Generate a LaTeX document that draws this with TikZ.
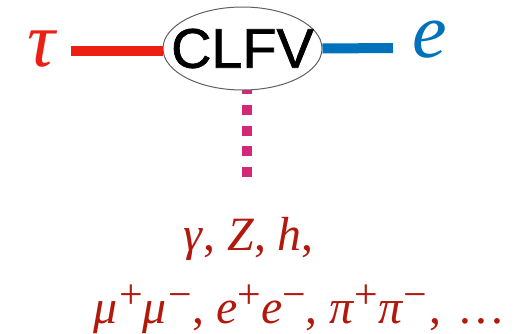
\documentclass[tikz,border=0pt]{standalone}
\usepackage{fontspec}
\setmainfont{Liberation Serif}
\newfontfamily\arialfont[FakeBold=1.2]{Liberation Sans}
\usetikzlibrary{shapes.geometric}
\definecolor{taured}{RGB}{235,32,18}
\definecolor{eblue}{RGB}{0,114,188}
\definecolor{dotmag}{RGB}{210,40,120}
\definecolor{txtred}{RGB}{178,24,12}
\newcommand{\sps}[1]{\raisebox{15bp}{\fontsize{42}{42}\selectfont #1}}
\newcommand{\cm}{,\hspace{0.25em}}
\begin{document}
\begin{tikzpicture}[x=1bp,y=-1bp,
  lbl/.style={inner sep=0pt, anchor=base, text height=30bp, text depth=0pt},
  mathtxt/.style={inner sep=0pt, anchor=base west, text=txtred, font=\fontsize{48}{52}\selectfont},
  leg/.style={line width=10bp}]
\useasboundingbox (0,0) rectangle (522,333);
\coordinate (dbot) at (247,177);
\coordinate (lend) at (71,51);
\coordinate (rend) at (393,48);
\draw[dotmag, line width=10bp, dash pattern=on 10bp off 10.7bp] (dbot) -- (dbot |- 0,60);
\node[ellipse, draw=gray!75!black, line width=1bp, fill=white, minimum width=159bp, minimum height=83bp, inner sep=0pt] (clfv) at (242.5,48.5) {\makebox[0pt]{\raisebox{-4bp}{\fontsize{56}{56}\arialfont CLFV}}};
\node[lbl, text=taured, font=\fontsize{78}{78}\selectfont\itshape] (tau) at (41,66) {τ};
\node[lbl, text=eblue, font=\fontsize{78}{78}\selectfont\itshape] (e) at (430,57) {e};
\draw[taured, leg] (lend) -- (lend -| clfv.west);
\draw[eblue, leg] (clfv.east) -- (rend);
\node[mathtxt] (l1) at (183,250) {\textit{γ}\cm\textit{Z}\cm\textit{h}\cm};
\node[mathtxt] (l2) at (93,323) {\textit{μ}\hspace{2bp}\sps{+}\textit{μ}\hspace{2bp}\sps{−}\cm\textit{e}\sps{+}\textit{e}\sps{−}\cm\textit{π}\sps{+}\textit{π}\sps{−}\hspace{2bp}\cm\hspace{4bp}…};
\end{tikzpicture}
\end{document}
